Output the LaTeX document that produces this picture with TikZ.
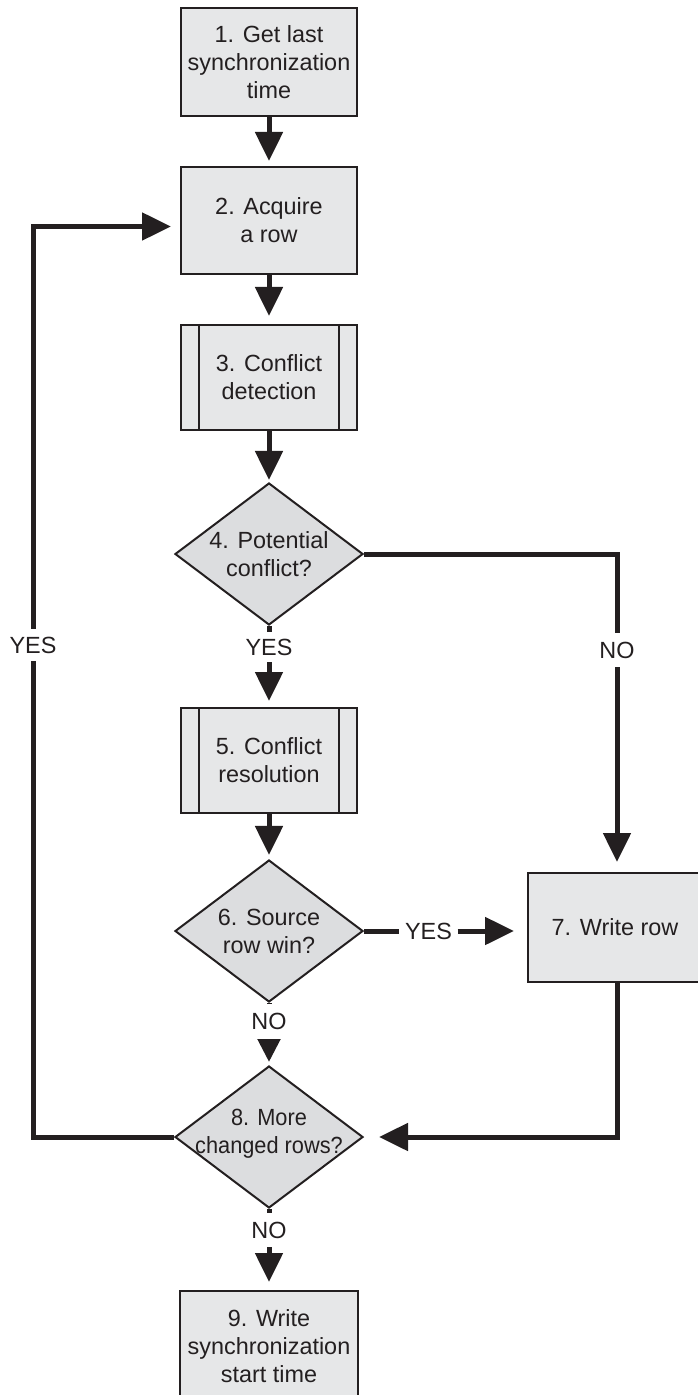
\documentclass[tikz,border=0pt]{standalone}
\usepackage{fontspec}
\setmainfont{Liberation Sans}
\newfontfamily\condfont[FakeStretch=0.93]{Liberation Sans}
\usetikzlibrary{arrows.meta,shapes.geometric,calc}
\definecolor{ink}{HTML}{231F20}
\definecolor{boxfill}{HTML}{E6E7E8}
\definecolor{diafill}{HTML}{DCDDDF}
\begin{document}
\begin{tikzpicture}[x=0.5pt,y=-0.5pt,
  every node/.style={text=ink, font=\fontsize{11.7pt}{14pt}\selectfont},
  proc/.style={draw=ink, line width=1pt, fill=boxfill, align=center, inner sep=0pt},
  dec/.style={diamond, draw=ink, line width=1pt, fill=diafill, inner sep=0pt, minimum width=94pt, minimum height=71pt},
  conn/.style={draw=ink, line width=2.5pt},
  flow/.style={conn, -{Triangle[length=14.5pt,width=13.5pt]}},
  shortflow/.style={conn, -{Triangle[length=11.5pt,width=11pt]}},
  lbl/.style={inner xsep=2.7pt, inner ysep=0pt, minimum height=15pt},
  sub/.style={draw=ink, line width=1pt}]
\useasboundingbox (0,0) rectangle (697,1395);

% process boxes
\node[proc, minimum width=88pt, minimum height=54pt] (b1) at (269,62) {1. Get last\\synchronization\\time};
\node[proc, minimum width=88pt, minimum height=53.5pt] (b2) at (269,220.5) {2. Acquire\\a row};
\node[proc, minimum width=88pt, minimum height=52.5pt] (b3) at (269,377.5) {3. Conflict\\detection};
\node[proc, minimum width=88pt, minimum height=52.5pt] (b5) at (269,760.5) {5. Conflict\\resolution};
\node[proc, minimum width=87pt, minimum height=54.5pt] (b7) at (615,927.5) {7. Write row};
\node[proc, minimum width=89pt, minimum height=55.5pt] (b9) at (269,1346.5) {9. Write\\synchronization\\start time};

% decisions
\node[dec, label={[align=center]center:{4. Potential\\conflict?}}] (d4) at (269,554) {};
\node[dec, label={[align=center]center:{6. Source\\row win?}}] (d6) at (269,931) {};
\node[dec, label={[align=center,yshift=1.5pt]center:{\condfont 8. More\\\condfont changed rows?}}] (d8) at (269,1137) {};

% predefined-process side bars
\draw[sub] ([xshift=9.5pt]b3.north west) -- ([xshift=9.5pt]b3.south west)
           ([xshift=-9.5pt]b3.north east) -- ([xshift=-9.5pt]b3.south east);
\draw[sub] ([xshift=9.5pt]b5.north west) -- ([xshift=9.5pt]b5.south west)
           ([xshift=-9.5pt]b5.north east) -- ([xshift=-9.5pt]b5.south east);

% branch labels
\node[lbl] (yes4) at (269,647) {YES};
\node[lbl, minimum height=17pt] (no4) at (617,650) {NO};
\node[lbl] (yes6) at (428.5,931) {YES};
\node[lbl, minimum height=17.5pt] (no6) at (269,1021.5) {NO};
\node[lbl, minimum height=17pt] (no8) at (269,1230) {NO};
\node[lbl, minimum height=16pt] (yes8) at (33,645) {YES};

% connectors
\draw[flow, shorten >=2.5pt] (b1) -- (b2);
\draw[flow, shorten >=4pt] (b2) -- (b3);
\draw[flow, shorten >=1pt] (b3) -- (d4);
\draw[conn] (d4.south) -- (yes4.north);
\draw[flow, shorten >=3pt] (yes4.south) -- (b5.north);
\draw[flow, shorten >=2pt] (b5) -- (d6);
\draw[conn] (d4.east) -| (no4.north);
\draw[flow, shorten >=5pt] (no4.south) -- (no4.south |- b7.north);
\draw[conn] (d6.east) -- (yes6.west);
\draw[flow, shorten >=6.5pt] (yes6.east) -- (yes6.east -| b7.west);
\draw[conn] (d6.south) -- (no6.north);
\draw[shortflow, shorten >=1.5pt] (no6.south) -- (d8.north);
\draw[flow, shorten >=7.5pt] (no4 |- b7.south) |- (d8.east);
\draw[conn] (d8.south) -- (no8.north);
\draw[flow, shorten >=4pt] (no8.south) -- (b9.north);
\draw[conn] (d8.west) -| (yes8.south);
\draw[flow, shorten >=4.5pt] (yes8.north) |- ([yshift=-3pt]b2.west);
\end{tikzpicture}
\end{document}
